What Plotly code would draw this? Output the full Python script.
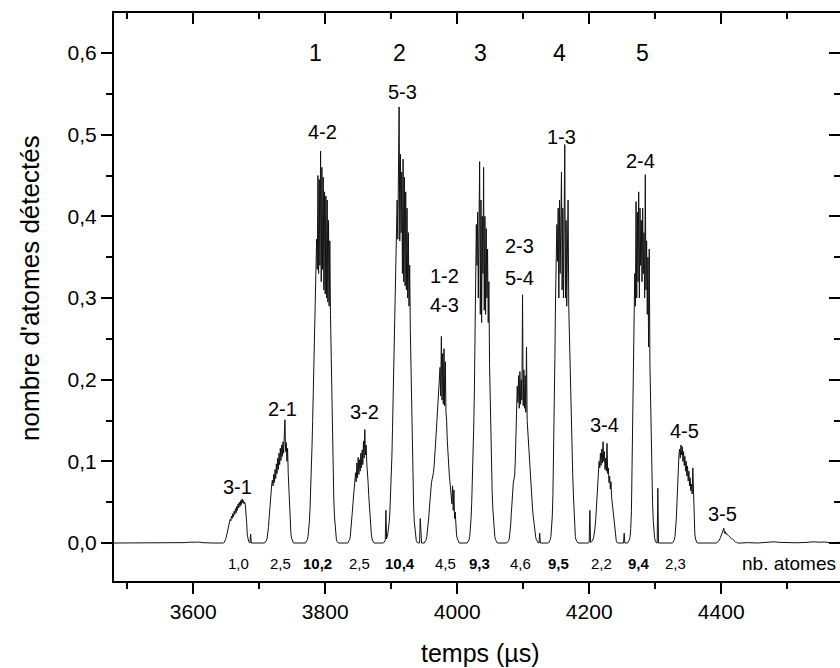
import plotly.graph_objects as go

# ---------------- data ----------------
# baseline before the first peak (time in µs, signal)
base_start_t = [3480, 3540, 3575, 3588, 3594, 3599, 3603, 3608, 3615, 3630, 3644]
base_start_y = [0.0, 0.0, 0.0, 0.0005, 0.001, 0.0015, 0.001, 0.0012, 0.0004, 0.0, 0.0]

# each peak: start time (µs) and signal sampled every 1 µs
peak_31_t0 = 3645
peak_31 = [0.000, 0.000, 0.001, 0.002, 0.004, 0.007, 0.011, 0.015, 0.019, 0.023,
           0.026, 0.029, 0.027, 0.033, 0.030, 0.036, 0.032, 0.039, 0.035, 0.042,
           0.037, 0.045, 0.040, 0.048, 0.043, 0.050, 0.045, 0.052, 0.047, 0.054,
           0.049, 0.052, 0.048, 0.050, 0.047, 0.040, 0.025, 0.010, 0.004, 0.002,
           0.001, 0.000, 0.011, 0.000]

peak_21_t0 = 3708
peak_21 = [0.000, 0.001, 0.002, 0.003, 0.006, 0.011, 0.019, 0.030, 0.043, 0.055,
           0.065, 0.072, 0.077, 0.070, 0.084, 0.074, 0.090, 0.079, 0.097, 0.085,
           0.104, 0.090, 0.110, 0.096, 0.116, 0.101, 0.120, 0.106, 0.124, 0.110,
           0.131, 0.151, 0.112, 0.123, 0.100, 0.116, 0.085, 0.060, 0.038, 0.022,
           0.012, 0.006, 0.003, 0.001, 0.000]

peak_42_t0 = 3770
peak_42 = [0.000, 0.001, 0.002, 0.004, 0.008, 0.015, 0.026, 0.042, 0.062, 0.088,
           0.118, 0.150, 0.185, 0.222, 0.262, 0.300, 0.338, 0.372, 0.335, 0.450,
           0.330, 0.445, 0.340, 0.480, 0.320, 0.460, 0.335, 0.448, 0.310, 0.430,
           0.305, 0.425, 0.300, 0.420, 0.295, 0.395, 0.290, 0.370, 0.280, 0.230,
           0.175, 0.125, 0.085, 0.055, 0.033, 0.018, 0.009, 0.004, 0.002, 0.001,
           0.000]

peak_32_t0 = 3834
peak_32 = [0.000, 0.001, 0.002, 0.004, 0.008, 0.015, 0.025, 0.037, 0.048, 0.060,
           0.070, 0.077, 0.086, 0.075, 0.098, 0.080, 0.105, 0.084, 0.102, 0.088,
           0.110, 0.092, 0.114, 0.096, 0.125, 0.104, 0.139, 0.108, 0.120, 0.098,
           0.090, 0.074, 0.058, 0.044, 0.030, 0.018, 0.010, 0.005, 0.002, 0.001,
           0.000]

peak_53_t0 = 3888
peak_53 = [0.000, 0.001, 0.002, 0.003, 0.040, 0.005, 0.008, 0.012, 0.018, 0.026,
           0.038, 0.055, 0.078, 0.105, 0.140, 0.180, 0.225, 0.270, 0.315, 0.355,
           0.390, 0.420, 0.372, 0.455, 0.534, 0.370, 0.476, 0.380, 0.454, 0.330,
           0.470, 0.320, 0.448, 0.315, 0.430, 0.310, 0.410, 0.300, 0.380, 0.290,
           0.340, 0.260, 0.210, 0.155, 0.110, 0.072, 0.045, 0.026, 0.014, 0.007,
           0.003, 0.001, 0.000, 0.000, 0.000, 0.000, 0.030, 0.000, 0.000]

peak_12_t0 = 3950
peak_12 = [0.000, 0.001, 0.002, 0.004, 0.008, 0.014, 0.022, 0.032, 0.044, 0.056,
           0.066, 0.074, 0.078, 0.081, 0.086, 0.094, 0.104, 0.118, 0.132, 0.146,
           0.160, 0.174, 0.186, 0.198, 0.215, 0.180, 0.253, 0.175, 0.232, 0.170,
           0.238, 0.168, 0.222, 0.160, 0.150, 0.125, 0.106, 0.094, 0.084, 0.075,
           0.068, 0.062, 0.048, 0.070, 0.040, 0.065, 0.030, 0.038, 0.018, 0.010,
           0.006, 0.003, 0.001, 0.000]

peak_3_t0 = 4015
peak_3 = [0.000, 0.001, 0.002, 0.004, 0.008, 0.016, 0.030, 0.050, 0.075, 0.100,
          0.140, 0.185, 0.250, 0.330, 0.390, 0.340, 0.405, 0.300, 0.415, 0.467,
          0.280, 0.420, 0.270, 0.400, 0.330, 0.460, 0.285, 0.400, 0.280, 0.385,
          0.300, 0.360, 0.270, 0.320, 0.220, 0.170, 0.125, 0.090, 0.062, 0.042,
          0.026, 0.015, 0.008, 0.004, 0.002, 0.001, 0.000]

peak_23_t0 = 4075
peak_23 = [0.000, 0.001, 0.002, 0.003, 0.006, 0.012, 0.022, 0.036, 0.052, 0.066,
           0.074, 0.078, 0.082, 0.100, 0.128, 0.160, 0.192, 0.172, 0.205, 0.165,
           0.210, 0.170, 0.200, 0.175, 0.304, 0.168, 0.212, 0.165, 0.205, 0.160,
           0.240, 0.150, 0.135, 0.118, 0.102, 0.088, 0.076, 0.065, 0.055, 0.044,
           0.034, 0.025, 0.017, 0.011, 0.007, 0.004, 0.002, 0.001, 0.000, 0.000,
           0.012, 0.000]

peak_13_t0 = 4138
peak_13 = [0.000, 0.001, 0.002, 0.004, 0.008, 0.016, 0.032, 0.058, 0.100, 0.160,
           0.225, 0.300, 0.355, 0.390, 0.345, 0.410, 0.300, 0.420, 0.330, 0.400,
           0.454, 0.310, 0.410, 0.300, 0.380, 0.488, 0.300, 0.395, 0.290, 0.365,
           0.420, 0.290, 0.250, 0.205, 0.170, 0.145, 0.120, 0.085, 0.060, 0.035,
           0.018, 0.008, 0.004, 0.002, 0.001, 0.000]

peak_34_t0 = 4198
peak_34 = [0.000, 0.000, 0.001, 0.040, 0.001, 0.001, 0.002, 0.003, 0.005, 0.008,
           0.013, 0.020, 0.030, 0.042, 0.056, 0.072, 0.090, 0.100, 0.092, 0.110,
           0.095, 0.115, 0.098, 0.124, 0.100, 0.112, 0.090, 0.104, 0.088, 0.122,
           0.085, 0.092, 0.074, 0.082, 0.066, 0.075, 0.056, 0.048, 0.038, 0.028,
           0.018, 0.011, 0.006, 0.003, 0.001, 0.000, 0.000, 0.000, 0.000, 0.000,
           0.000, 0.000, 0.000, 0.000, 0.000, 0.012, 0.000]

peak_24_t0 = 4258
peak_24 = [0.000, 0.001, 0.002, 0.004, 0.008, 0.018, 0.040, 0.090, 0.160, 0.215,
           0.280, 0.330, 0.290, 0.418, 0.300, 0.405, 0.320, 0.430, 0.300, 0.410,
           0.340, 0.395, 0.320, 0.410, 0.330, 0.380, 0.300, 0.451, 0.310, 0.370,
           0.280, 0.350, 0.240, 0.360, 0.220, 0.170, 0.120, 0.080, 0.050, 0.028,
           0.014, 0.007, 0.003, 0.001, 0.000, 0.000, 0.067, 0.000, 0.000]

peak_45_t0 = 4326
peak_45 = [0.000, 0.001, 0.002, 0.004, 0.008, 0.016, 0.030, 0.050, 0.074, 0.095,
           0.108, 0.115, 0.104, 0.120, 0.108, 0.118, 0.100, 0.112, 0.095, 0.106,
           0.088, 0.100, 0.082, 0.094, 0.076, 0.088, 0.070, 0.080, 0.064, 0.072,
           0.060, 0.092, 0.058, 0.030, 0.012, 0.005, 0.002, 0.001, 0.000]

peak_35_t0 = 4390
peak_35 = [0.000, 0.000, 0.000, 0.000, 0.001, 0.001, 0.002, 0.003, 0.005, 0.007,
           0.009, 0.011, 0.013, 0.014, 0.018, 0.012, 0.014, 0.011, 0.012, 0.010,
           0.010, 0.009, 0.008, 0.008, 0.007, 0.006, 0.005, 0.005, 0.004, 0.003,
           0.002, 0.002, 0.001, 0.001, 0.000, 0.000]

# baseline after the last peak
base_end_t = [4430, 4440, 4455, 4465, 4475, 4480, 4488, 4500, 4515, 4530, 4540, 4548, 4556, 4565, 4580]
base_end_y = [0.0, 0.0005, 0.0, 0.0008, 0.0012, 0.0015, 0.0008, 0.0005, 0.0003, 0.0008, 0.0015, 0.001, 0.0012, 0.0005, 0.0008]

# labels of the transitions (text, time, height)
pair_text = ["3-1", "2-1", "4-2", "3-2", "5-3", "1-2", "4-3", "2-3", "5-4", "1-3", "3-4", "2-4", "4-5", "3-5"]
pair_t = [3667, 3735, 3796, 3860, 3917, 3981, 3981, 4095, 4095, 4158, 4223, 4277, 4344, 4402]
pair_y = [0.069, 0.164, 0.503, 0.160, 0.552, 0.327, 0.292, 0.364, 0.325, 0.497, 0.145, 0.468, 0.137, 0.036]

# group numbers at the top
group_text = ["1", "2", "3", "4", "5"]
group_t = [3786, 3913, 4036, 4155, 4281]

# number of atoms per peak
atoms_n = [1.0, 2.5, 10.2, 2.5, 10.4, 4.5, 9.3, 4.6, 9.5, 2.2, 9.4, 2.3]
atoms_t = [3669, 3733, 3789, 3852, 3914, 3983, 4034, 4096, 4154, 4219, 4275, 4331]

x_range = [3480, 4580]
y_range = [-0.0465, 0.649]

# ---------------- build series ----------------
peaks = [(peak_31_t0, peak_31), (peak_21_t0, peak_21), (peak_42_t0, peak_42),
         (peak_32_t0, peak_32), (peak_53_t0, peak_53), (peak_12_t0, peak_12),
         (peak_3_t0, peak_3), (peak_23_t0, peak_23), (peak_13_t0, peak_13),
         (peak_34_t0, peak_34), (peak_24_t0, peak_24), (peak_45_t0, peak_45),
         (peak_35_t0, peak_35)]

xs = list(base_start_t)
ys = list(base_start_y)
for t0, vals in peaks:
    for i, v in enumerate(vals):
        xs.append(t0 + i)
        ys.append(v)
xs += base_end_t
ys += base_end_y

FONT = "Liberation Sans, Arial, Helvetica, sans-serif"

fig = go.Figure()
fig.add_trace(go.Scatter(x=xs, y=ys, mode="lines",
                         line=dict(color="#111111", width=1),
                         showlegend=False, hoverinfo="skip"))
# empty trace to carry the mirrored (inside) tick axes
fig.add_trace(go.Scatter(x=[None], y=[None], xaxis="x2", yaxis="y2",
                         showlegend=False, hoverinfo="skip"))

ann = []
for txt, t, y in zip(pair_text, pair_t, pair_y):
    ann.append(dict(x=t, y=y, xref="x", yref="y", text=txt, showarrow=False,
                    font=dict(size=20, color="black", family=FONT)))
for txt, t in zip(group_text, group_t):
    ann.append(dict(x=t, y=0.6, xref="x", yref="y", text=txt, showarrow=False,
                    font=dict(size=23, color="black", family=FONT)))
for n, t in zip(atoms_n, atoms_t):
    s = f"{n:.1f}".replace(".", ",")
    if n >= 9:
        s = "<b>" + s + "</b>"
    ann.append(dict(x=t, y=-0.0245, xref="x", yref="y", text=s, showarrow=False,
                    font=dict(size=15, color="black", family=FONT)))
ann.append(dict(x=1, y=-0.0245, xref="paper", yref="y", text="nb. atomes",
                xanchor="right", xshift=-2, showarrow=False,
                font=dict(size=19, color="black", family=FONT)))
# axis titles
ann.append(dict(x=0, y=0.516, xref="paper", yref="paper", xanchor="center",
                yanchor="middle", xshift=-84, textangle=-90,
                text="nombre d'atomes détectés", showarrow=False,
                font=dict(size=26, color="black", family=FONT)))
ann.append(dict(x=0.505, y=0, xref="paper", yref="paper", xanchor="center",
                yanchor="middle", yshift=-72, text="temps (µs)", showarrow=False,
                font=dict(size=25, color="black", family=FONT)))

axis_common = dict(showgrid=False, zeroline=False, tickcolor="black", tickwidth=2)

fig.update_layout(
    width=840, height=668,
    margin=dict(l=114, r=0, t=13, b=87),
    paper_bgcolor="white", plot_bgcolor="white",
    separators=", ",
    font=dict(family=FONT, color="black"),
    showlegend=False,
    hovermode=False,
    annotations=ann,
    xaxis=dict(range=x_range, tick0=3600, dtick=200, ticks="outside", ticklen=11,
               showline=True, linecolor="black", linewidth=2, mirror=True,
               tickfont=dict(size=21, family=FONT, color="black"),
               minor=dict(dtick=100, tick0=3500, ticks="outside", ticklen=6,
                          tickwidth=2, tickcolor="black"),
               **axis_common),
    yaxis=dict(range=y_range, tick0=0, dtick=0.1, tickformat=".1f", ticks="outside",
               ticklen=11, showline=True, linecolor="black", linewidth=2, mirror=False,
               tickfont=dict(size=21, family=FONT, color="black"),
               minor=dict(dtick=0.05, tick0=0, ticks="outside", ticklen=6,
                          tickwidth=2, tickcolor="black"),
               **axis_common),
    xaxis2=dict(range=x_range, overlaying="x", side="top", anchor="y2",
                tick0=3600, dtick=200, ticks="inside", ticklen=11,
                showticklabels=False, showline=False,
                minor=dict(dtick=100, tick0=3500, ticks="inside", ticklen=6,
                           tickwidth=2, tickcolor="black"),
                **axis_common),
    yaxis2=dict(range=y_range, overlaying="y", side="right", anchor="x2",
                tick0=0, dtick=0.1, ticks="inside", ticklen=11,
                showticklabels=False, showline=False,
                minor=dict(dtick=0.05, tick0=0, ticks="inside", ticklen=6,
                           tickwidth=2, tickcolor="black"),
                **axis_common),
)

# remove the default page margin so the 840x668 figure fills the window exactly
fig.write_html("out.html",
               config={"displayModeBar": False, "staticPlot": True},
               post_script="document.body.style.margin='0';"
                           "document.body.style.overflow='hidden';")
